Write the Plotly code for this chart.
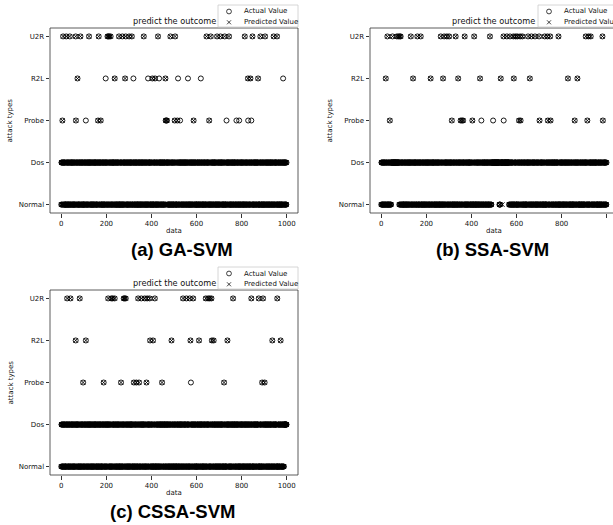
import plotly.graph_objects as go

W, H = 613, 525
CLASSES = ["Normal", "Dos", "Probe", "R2L", "U2R"]
N_SAMPLES = 1000
X_TICKS = [0, 200, 400, 600, 800, 1000]
TITLE = "predict the outcome"
CAPTIONS = ["(a) GA-SVM", "(b) SSA-SVM", "(c) CSSA-SVM"]
CAPTION_SHIFT = [8, -2, -2]

# per-sample class of the test set (N = Normal, D = Dos), 20 rows x 50 samples
BASE_ROWS = [
    "NDDNDNNDND DNNDDNDNND NNDNDDNDNN DDNNDNDNDD NDNNDDDNND",
    "DNDNNDNDDN NNDDNDNNDD DNDDNNDNDN NDDNDNNDND DNNDDNDNND",
    "NNDNDDNDNN DDNNDNDNDD NDNNDDDNND DNDNNDNDDN NNDDNDNNDD",
    "DNDDNNDNDN NDDNDNNDND DNNDDNDNND NNDNDDNDNN DDNNDNDNDD",
    "NDNNDDDNND DNDNNDNDDN NNDDNDNNDD DNDDNNDNDN NDDNDNNDND",
    "DNNDDNDNND NNDNDDNDNN DDNNDNDNDD NDNNDDDNND DNDNNDNDDN",
    "NNDDNDNNDD DNDDNNDNDN NDDNDNNDND DNNDDNDNND NNDNDDNDNN",
    "DDNNDNDNDD NDNNDDDNND DNDNNDNDDN NNDDNDNNDD DNDDNNDNDN",
    "NDDNDNNDND NNDNDDNDNN NDNNDDDNND NNDDNDNNDD DNNDDNDNND",
    "DDNNDNDNDD DNDNNDNDDN DNDDNNDNDN DNNDDNDNND NDDNDNNDND",
    "NNDNDDNDNN NDNNDDDNND NNDDNDNNDD NDDNDNNDND DDNNDNDNDD",
    "DNDNNDNDDN DNDDNNDNDN DNNDDNDNND DDNNDNDNDD NNDNDDNDNN",
    "NDNNDDDNND NNDDNDNNDD NDDNDNNDND NNDNDDNDNN DNDNNDNDDN",
    "DNDDNNDNDN DNNDDNDNND DDNNDNDNDD DNDNNDNDDN NDNNDDDNND",
    "NNDDNDNNDD NDDNDNNDND NNDNDDNDNN NDNNDDDNND DNDDNNDNDN",
    "DNNDDNDNND DDNNDNDNDD DNDNNDNDDN DNDDNNDNDN NNDDNDNNDD",
    "NDDNDNNDND NDNNDDDNND DNNDDNDNND DNDNNDNDDN NNDNDDNDNN",
    "NNDDNDNNDD DDNNDNDNDD DNDDNNDNDN NNDNDDNDNN NDDNDNNDND",
    "NDNNDDDNND DNNDDNDNND DNDNNDNDDN DDNNDNDNDD NNDDNDNNDD",
    "DNDDNNDNDN NNDNDDNDNN NDDNDNNDND NNDDNDNNDD DNNDDNDNND",
]

# (a) GA-SVM
A_DOS_RUNS = []
A_U2R_HIT = [8, 22, 38, 64, 85, 123, 166, 205, 209, 213, 219, 256, 271, 286, 301, 313,
             366, 429, 484, 505, 644, 663, 691, 706, 725, 744, 814, 848, 883, 904, 942, 957]
A_U2R_MISS = []
A_R2L_HIT = [72, 237, 283, 404, 416, 462, 828, 839, 873]
A_R2L_MISS = [197, 320, 385, 434, 518, 562, 619, 984]
A_PROBE_HIT = [5, 65, 163, 175, 463, 466, 469, 503, 515, 587, 656]
A_PROBE_MISS = [109, 527, 733, 777, 789, 829, 843]
A_PRED_NORMAL = []

# (b) SSA-SVM
B_DOS_RUNS = [(44, 79), (490, 521), (531, 566)]
B_U2R_HIT = [27, 50, 69, 76, 82, 86, 131, 160, 175, 264, 279, 291, 301, 330, 370, 412, 482,
             542, 557, 571, 586, 596, 604, 616, 626, 651, 666, 682, 700, 725, 737, 749, 786,
             907, 919, 929, 981]
B_U2R_MISS = []
B_R2L_HIT = [20, 141, 219, 274, 341, 438, 530, 588, 659, 828, 870]
B_R2L_MISS = []
B_PROBE_HIT = [38, 313, 352, 358, 363, 404, 611, 618, 702, 739, 751, 858, 914, 983]
B_PROBE_MISS = [444, 496, 543]
B_PRED_NORMAL = [537]

# (c) CSSA-SVM
C_DOS_RUNS = [(988, 999)]
C_U2R_HIT = [26, 41, 82, 208, 222, 228, 237, 277, 281, 286, 341, 355, 370, 381, 392, 415,
             540, 555, 570, 585, 641, 651, 658, 666, 762, 843, 876, 895, 958]
C_U2R_MISS = []
C_R2L_HIT = [64, 109, 394, 407, 489, 573, 611, 668, 676, 737, 936, 973]
C_R2L_MISS = []
C_PROBE_HIT = [97, 188, 265, 322, 333, 345, 378, 447, 722, 891, 902]
C_PROBE_MISS = [575]
C_PRED_NORMAL = []


def build(dos_runs, u2r_hit, u2r_miss, r2l_hit, r2l_miss, probe_hit, probe_miss, pred_normal):
    codes = list("".join(r.replace(" ", "") for r in BASE_ROWS)[:N_SAMPLES])
    for s, e in dos_runs:
        for i in range(s, e + 1):
            codes[i] = "D"
    actual = ["Normal" if c == "N" else "Dos" for c in codes]
    pred = list(actual)
    for lst, name in ((u2r_hit, "U2R"), (r2l_hit, "R2L"), (probe_hit, "Probe")):
        for i in lst:
            actual[i] = name
            pred[i] = name
    for lst, name in ((u2r_miss, "U2R"), (r2l_miss, "R2L"), (probe_miss, "Probe")):
        for i in lst:
            actual[i] = name
            pred[i] = "Dos"
    for i in pred_normal:
        pred[i] = "Normal"
    return actual, pred


PANELS = [
    build(A_DOS_RUNS, A_U2R_HIT, A_U2R_MISS, A_R2L_HIT, A_R2L_MISS, A_PROBE_HIT, A_PROBE_MISS, A_PRED_NORMAL),
    build(B_DOS_RUNS, B_U2R_HIT, B_U2R_MISS, B_R2L_HIT, B_R2L_MISS, B_PROBE_HIT, B_PROBE_MISS, B_PRED_NORMAL),
    build(C_DOS_RUNS, C_U2R_HIT, C_U2R_MISS, C_R2L_HIT, C_R2L_MISS, C_PROBE_HIT, C_PROBE_MISS, C_PRED_NORMAL),
]

# layout geometry (pixels)
BOXES = [(50, 298, 28, 213), (370, 618, 28, 213), (50, 298, 290, 475)]
SCALE = (298 - 50) / 1100.0


def px(x):
    return x / W


def py(y):
    return 1 - y / H


fig = go.Figure()
tickfont = dict(family="DejaVu Sans", size=7, color="#111")
shapes, annos = [], []

for k, ((actual, pred), (l, r, t, b)) in enumerate(zip(PANELS, BOXES)):
    sfx = "" if k == 0 else str(k + 1)
    xs = list(range(N_SAMPLES))
    fig.add_trace(go.Scatter(x=xs, y=actual, mode="markers", name="Actual Value",
                             xaxis="x" + sfx, yaxis="y" + sfx, showlegend=False,
                             marker=dict(symbol="circle-open", size=5, color="black",
                                         line=dict(width=0.9, color="black"))))
    fig.add_trace(go.Scatter(x=xs, y=pred, mode="markers", name="Predicted Value",
                             xaxis="x" + sfx, yaxis="y" + sfx, showlegend=False,
                             marker=dict(symbol="x-thin-open", size=4.5, color="black",
                                         line=dict(width=0.9, color="black"))))
    rr = min(r, W)
    xmax = -50 + (rr - l) / SCALE
    fig.layout["xaxis" + sfx] = dict(
        domain=[px(l), px(rr)], range=[-50, xmax], tickvals=X_TICKS, ticks="outside",
        ticklen=3.5, tickwidth=0.8, tickcolor="#333", showgrid=False, zeroline=False,
        showline=False, tickfont=tickfont, anchor="y" + sfx, fixedrange=True)
    fig.layout["yaxis" + sfx] = dict(
        domain=[py(b), py(t)], type="category", categoryorder="array",
        categoryarray=CLASSES, range=[-0.2, 4.2], ticks="outside", ticklen=3.5,
        tickwidth=0.8, tickcolor="#333", showgrid=False, zeroline=False, showline=False,
        tickfont=tickfont, anchor="x" + sfx, fixedrange=True)
    # axes frame
    shapes.append(dict(type="rect", xref="paper", yref="paper", x0=px(l), x1=px(r),
                       y0=py(b), y1=py(t), line=dict(color="#333", width=0.8),
                       fillcolor="rgba(0,0,0,0)", layer="above"))
    cx = (l + r) / 2
    # title
    annos.append(dict(text=TITLE, x=px(cx), y=py(t - 7), xref="paper", yref="paper",
                      xanchor="center", yanchor="middle", showarrow=False,
                      font=dict(family="DejaVu Sans", size=8.2, color="#111")))
    # axis labels
    annos.append(dict(text="data", x=px(cx), y=py(b + 18), xref="paper", yref="paper",
                      xanchor="center", yanchor="middle", showarrow=False,
                      font=dict(family="DejaVu Sans", size=7, color="#111")))
    annos.append(dict(text="attack types", x=px(l - 40), y=py((t + b) / 2), xref="paper",
                      yref="paper", xanchor="center", yanchor="middle", textangle=-90,
                      showarrow=False, font=dict(family="DejaVu Sans", size=7, color="#111")))
    # caption
    annos.append(dict(text="<b>" + CAPTIONS[k] + "</b>", x=px(cx + CAPTION_SHIFT[k]), y=py(b + 36),
                      xref="paper", yref="paper", xanchor="center", yanchor="middle",
                      showarrow=False, font=dict(family="Liberation Sans", size=18.5, color="black")))
    # legend
    lx0, ly0 = r - 80, t - 23
    shapes.append(dict(type="rect", xref="paper", yref="paper", x0=px(lx0), x1=px(r),
                       y0=py(ly0 + 22), y1=py(ly0), line=dict(color="#cccccc", width=0.8),
                       fillcolor="white", layer="above"))
    sx = lx0 + 11
    shapes.append(dict(type="circle", xref="paper", yref="paper", x0=px(sx - 2.4), x1=px(sx + 2.4),
                       y0=py(ly0 + 6.5 + 2.4), y1=py(ly0 + 6.5 - 2.4),
                       line=dict(color="black", width=0.75), layer="above"))
    shapes.append(dict(type="line", xref="paper", yref="paper", x0=px(sx - 2), x1=px(sx + 2),
                       y0=py(ly0 + 17.3 - 2), y1=py(ly0 + 17.3 + 2),
                       line=dict(color="black", width=0.75), layer="above"))
    shapes.append(dict(type="line", xref="paper", yref="paper", x0=px(sx - 2), x1=px(sx + 2),
                       y0=py(ly0 + 17.3 + 2), y1=py(ly0 + 17.3 - 2),
                       line=dict(color="black", width=0.75), layer="above"))
    annos.append(dict(text="Actual Value", x=px(lx0 + 23.5), y=py(ly0 + 6.5), xref="paper",
                      yref="paper", xanchor="left", yanchor="middle", showarrow=False,
                      font=dict(family="DejaVu Sans", size=7, color="#111")))
    annos.append(dict(text="Predicted Value", x=px(lx0 + 23.5), y=py(ly0 + 17.3), xref="paper",
                      yref="paper", xanchor="left", yanchor="middle", showarrow=False,
                      font=dict(family="DejaVu Sans", size=7, color="#111")))

fig.update_layout(width=W, height=H, margin=dict(l=0, r=0, t=0, b=0, autoexpand=False),
                  paper_bgcolor="white", plot_bgcolor="white", showlegend=False,
                  shapes=shapes, annotations=annos)

fig.write_html("out.html", config={"displayModeBar": False})
